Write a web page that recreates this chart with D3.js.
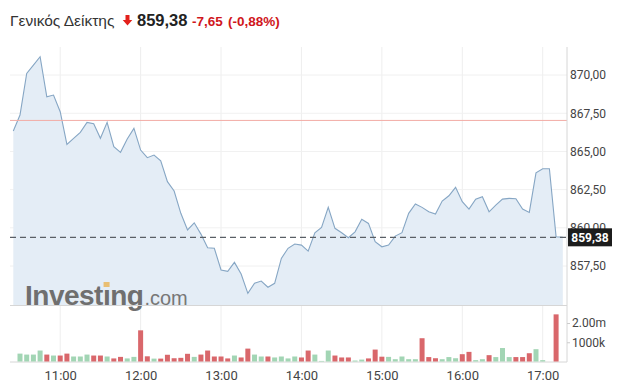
<!DOCTYPE html>
<html>
<head>
<meta charset="utf-8">
<script src="https://cdn.jsdelivr.net/npm/d3@7/dist/d3.min.js"></script>
<style>
  body { margin: 0; background: #fff; }
  svg { display: block; font-family: "Liberation Sans", Arial, sans-serif; }
</style>
</head>
<body>
<svg id="chart" width="619" height="384"></svg>
<script>
// header texts
const titleText = "Γενικός Δείκτης";
const lastText = "859,38";
const changeText = "-7,65";
const changePctText = "(-0,88%)";

const prevClose = 867.03;
const lastClose = 859.38;
const startTime = "10:25"; // one point every 5 minutes

// closing values, 10:25 -> 17:15
const closes = [
  866.34, 867.38, 870.11, 870.65, 871.2, 868.58, 868.69,
  867.6, 865.46, 865.86, 866.25, 866.9, 866.81, 865.86, 866.9, 865.31, 864.94, 865.81, 866.51,
  865.09, 864.59, 864.76, 864.39, 863.02, 862.41, 860.95, 859.86, 860.33, 859.59, 858.7, 858.66,
  857.24, 857.15, 857.74, 856.98, 855.71, 856.37, 856.52, 856.11, 856.37, 858.0, 858.66, 858.94,
  858.87, 858.48, 859.68, 860.03, 861.34, 859.97, 859.68, 859.35, 859.74, 860.56, 860.29, 859.09,
  858.76, 858.87, 859.46, 859.68, 860.95, 861.56, 861.34, 861.05, 860.9, 861.75, 862.1, 862.65,
  861.71, 861.23, 861.88, 862.04, 861.05, 861.49, 861.88, 861.93, 861.9, 861.23, 861.01, 863.6,
  863.87, 863.87, 859.42, 859.38
];

// volume in millions, same times
const volumes = [
  0, 0.41, 0.36, 0.36, 0.57, 0.36, 0.31,
  0.31, 0.41, 0.26, 0.26, 0.36, 0.31, 0.31, 0.26, 0.16, 0.24, 0.16, 0.24,
  1.62, 0.27, 0.15, 0.15, 0.35, 0.17, 0.19, 0.4, 0.24, 0.36, 0.57, 0.26,
  0.26, 0.16, 0.31, 0.21, 0.67, 0.36, 0.26, 0.26, 0.21, 0.26, 0.16, 0.26,
  0.21, 0.57, 0.36, 0.03, 0.57, 0.31, 0.21, 0.21, 0.05, 0.1, 0.16, 0.62,
  0.25, 0.24, 0.12, 0.26, 0.12, 0.12, 1.21, 0.23, 0.17, 0.12, 0.23, 0.17,
  0.38, 0.5, 0.07, 0.12, 0.33, 0.23, 0.7, 0.23, 0.23, 0.23, 0.43, 0.64,
  0.07, 0, 2.45, 0
];

const priceTicks = [857.5, 860, 862.5, 865, 867.5, 870];
const volumeTicks = [1, 2];
const volumeTickLabels = ["1000k", "2.00m"];

const svg = d3.select("#chart");

const parse = d3.timeParse("%H:%M");
const t0 = parse(startTime);
const data = closes.map((c, i) => ({
  t: d3.timeMinute.offset(t0, i * 5),
  close: c,
  vol: volumes[i],
  up: i === 0 ? true : c >= closes[i - 1]
}));

const left = 10, right = 567;
const x = d3.scaleTime()
  .domain([data[0].t, data[data.length - 1].t])
  .range([13.3, 562.8]);
const y = d3.scaleLinear().domain([854.95, 871.77]).range([305, 48]);
const yv = d3.scaleLinear().domain([0, 2.5]).range([361.5, 313.4]);

const loc = d3.formatLocale({decimal: ",", thousands: ".", grouping: [3], currency: ["", ""]});
const fmt = loc.format(".2f");

// grid
const hours = x.ticks(d3.timeHour.every(1));
svg.append("g").selectAll("line").data(hours).join("line")
  .attr("x1", d => x(d)).attr("x2", d => x(d))
  .attr("y1", 47).attr("y2", 362)
  .attr("stroke", "#eeeeee");
svg.append("g").selectAll("line").data(priceTicks).join("line")
  .attr("x1", left).attr("x2", right)
  .attr("y1", d => y(d)).attr("y2", d => y(d))
  .attr("stroke", "#f1f1f1");

// area + line
svg.append("path").datum(data)
  .attr("fill", "#e4edf6")
  .attr("d", d3.area().x(d => x(d.t)).y0(305).y1(d => y(d.close)));
svg.append("path").datum(data)
  .attr("fill", "none")
  .attr("stroke", "#86a6c4")
  .attr("stroke-width", 1.1)
  .attr("d", d3.line().x(d => x(d.t)).y(d => y(d.close)));

// watermark
const wm = svg.append("text")
  .attr("x", 25).attr("y", 305)
  .attr("fill", "#6f6f6f")
  .style("font-weight", "bold").style("font-size", "28px")
  .style("letter-spacing", "-0.5px")
  .text("Investıng");
const wmBox = wm.node().getBBox();
const iBox = wm.node().getExtentOfChar(6);
svg.append("rect")
  .attr("x", iBox.x + iBox.width / 2 - 3).attr("y", 282)
  .attr("width", 6).attr("height", 5)
  .attr("fill", "#e9bf73");
svg.append("text")
  .attr("x", wmBox.x + wmBox.width + 1).attr("y", 305)
  .attr("fill", "#777")
  .style("font-size", "20px")
  .text(".com");

// prev close and last price lines
svg.append("line")
  .attr("x1", left).attr("x2", right)
  .attr("y1", y(prevClose)).attr("y2", y(prevClose))
  .attr("stroke", "#f2aca6");
svg.append("line")
  .attr("x1", left).attr("x2", right)
  .attr("y1", y(lastClose)).attr("y2", y(lastClose))
  .attr("stroke", "#5a5f66").attr("stroke-width", 1.3)
  .attr("stroke-dasharray", "6,4");

// panel borders
svg.append("line").attr("x1", left).attr("x2", right).attr("y1", 305.5).attr("y2", 305.5).attr("stroke", "#d6d6d6");
svg.append("line").attr("x1", left).attr("x2", right).attr("y1", 362).attr("y2", 362).attr("stroke", "#d6d6d6");
svg.append("line").attr("x1", right).attr("x2", right).attr("y1", 47).attr("y2", 362).attr("stroke", "#d6d6d6");

// volume bars
svg.append("g").selectAll("rect").data(data.filter(d => d.vol > 0)).join("rect")
  .attr("x", d => x(d.t) - 2.5)
  .attr("width", 5)
  .attr("y", d => yv(d.vol))
  .attr("height", d => yv(0) - yv(d.vol))
  .attr("fill", d => d.up ? "#a2d5b4" : "#d9676b");

// price axis
const ya = svg.append("g").attr("transform", `translate(${right},0)`)
  .call(d3.axisRight(y).tickValues(priceTicks).tickFormat(fmt).tickSize(0).tickPadding(3));
ya.select(".domain").remove();
ya.selectAll("text").attr("fill", "#444").style("font-size", "12px").style("font-family", "Roboto, sans-serif");

// volume axis
const va = svg.append("g").attr("transform", `translate(${right},0)`)
  .call(d3.axisRight(yv).tickValues(volumeTicks).tickFormat((d, i) => volumeTickLabels[i]).tickSize(3).tickPadding(2));
va.select(".domain").remove();
va.selectAll("line").attr("stroke", "#ccc");
va.selectAll("text").attr("fill", "#444").style("font-size", "12px").style("font-family", "Roboto, sans-serif");

// time axis
const xa = svg.append("g").attr("transform", "translate(0,362)")
  .call(d3.axisBottom(x).ticks(d3.timeHour.every(1)).tickFormat(d3.timeFormat("%H:%M")).tickSize(0).tickPadding(9));
xa.select(".domain").remove();
xa.selectAll("text").attr("fill", "#444").style("font-size", "13px").style("font-family", "Roboto, sans-serif");

// last price badge
svg.append("rect")
  .attr("x", 568).attr("y", y(lastClose) - 9)
  .attr("width", 44).attr("height", 18)
  .attr("fill", "#1c1c1c");
svg.append("text")
  .attr("x", 590).attr("y", y(lastClose) + 4.5)
  .attr("text-anchor", "middle")
  .attr("fill", "#fff")
  .style("font-weight", "bold").style("font-size", "12px").style("font-family", "Roboto, sans-serif")
  .text(fmt(lastClose));

// header
svg.append("text").attr("x", 10).attr("y", 26)
  .attr("fill", "#333").style("font-size", "15.5px")
  .text(titleText);
svg.append("path")
  .attr("d", "M125.5,15 h4 v5 h2.8 l-4.8,5.5 l-4.8,-5.5 h2.8 z")
  .attr("fill", "#e3201b");
svg.append("text").attr("x", 137).attr("y", 26)
  .attr("fill", "#222").style("font-size", "16.5px").style("font-weight", "bold")
  .text(lastText);
svg.append("text").attr("x", 192).attr("y", 26)
  .attr("fill", "#d0161c").style("font-size", "13.5px").style("font-weight", "bold")
  .text(changeText);
svg.append("text").attr("x", 228).attr("y", 26)
  .attr("fill", "#d0161c").style("font-size", "13.5px").style("font-weight", "bold")
  .text(changePctText);
</script>
</body>
</html>
